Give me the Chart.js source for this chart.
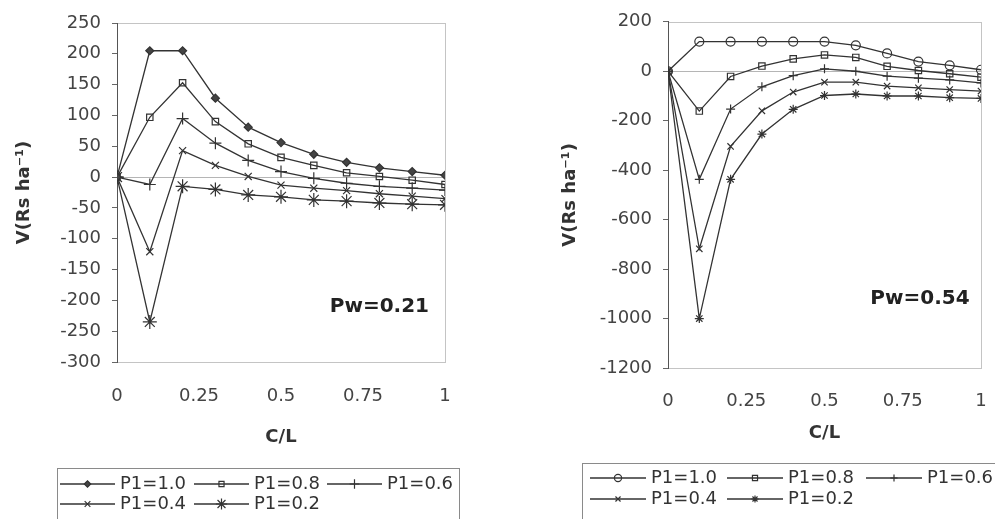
<!DOCTYPE html>
<html>
<head>
<meta charset="utf-8">
<script src="https://cdn.jsdelivr.net/npm/chart.js"></script>
<style>
  html, body { margin: 0; padding: 0; background: #fff; }
  #wrap { position: relative; width: 995px; height: 519px; overflow: hidden; }
  canvas { position: absolute; top: 0; }
  #left { left: 0; }
  #right { left: 497px; }
</style>
</head>
<body>
<div id="wrap">
  <canvas id="left" width="497" height="519"></canvas>
  <canvas id="right" width="516" height="519"></canvas>
</div>
<script>
'use strict';
// x values (C/L) and tick labels
const cl = [0, 0.1, 0.2, 0.3, 0.4, 0.5, 0.6, 0.7, 0.8, 0.9, 1.0];
const xTicks = [0, 0.25, 0.5, 0.75, 1];
const seriesNames = ['P1=1.0', 'P1=0.8', 'P1=0.6', 'P1=0.4', 'P1=0.2'];

// left panel, Pw=0.21
const pwLeft = 'Pw=0.21';
const left_p10 = [0, 205, 205, 128, 81, 56, 37, 24, 15, 9, 3];
const left_p08 = [0, 97, 153, 90, 54, 32, 19, 7, 1, -5, -12];
const left_p06 = [0, -12, 95, 55, 27, 9, -2, -10, -15, -18, -21];
const left_p04 = [0, -121, 43, 19, 1, -13, -18, -22, -27, -31, -35];
const left_p02 = [0, -235, -15, -20, -29, -32, -37, -39, -42, -44, -45];
const yTicksLeft = [-300, -250, -200, -150, -100, -50, 0, 50, 100, 150, 200, 250];

// right panel, Pw=0.54
const pwRight = 'Pw=0.54';
const right_p10 = [0, 120, 120, 120, 120, 120, 105, 72, 39, 24, 6];
const right_p08 = [0, -161, -21, 21, 50, 66, 56, 20, 3, -10, -24];
const right_p06 = [0, -437, -153, -63, -18, 10, 0, -20, -28, -35, -47];
const right_p04 = [0, -718, -304, -160, -84, -44, -44, -60, -67, -74, -80];
const right_p02 = [0, -1000, -437, -254, -154, -98, -92, -100, -100, -107, -110];
const yTicksRight = [-1200, -1000, -800, -600, -400, -200, 0, 200];

const lineColor = '#333';
const leftMarkers = [
  {pointStyle: 'rectRot', pointRadius: 4, pointBackgroundColor: '#444'},
  {pointStyle: 'rect', pointRadius: 4.5, pointBackgroundColor: 'rgba(0,0,0,0)'},
  {pointStyle: 'cross', pointRadius: 6, pointBackgroundColor: 'rgba(0,0,0,0)'},
  {pointStyle: 'crossRot', pointRadius: 5, pointBackgroundColor: 'rgba(0,0,0,0)'},
  {pointStyle: 'star', pointRadius: 7, pointBackgroundColor: 'rgba(0,0,0,0)'}
];
const rightMarkers = [
  {pointStyle: 'circle', pointRadius: 4.5, pointBackgroundColor: 'rgba(0,0,0,0)'},
  {pointStyle: 'rect', pointRadius: 4.5, pointBackgroundColor: 'rgba(0,0,0,0)'},
  {pointStyle: 'cross', pointRadius: 4.5, pointBackgroundColor: 'rgba(0,0,0,0)'},
  {pointStyle: 'crossRot', pointRadius: 4.5, pointBackgroundColor: 'rgba(0,0,0,0)'},
  {pointStyle: 'star', pointRadius: 4.5, pointBackgroundColor: '#555'}
];

function makeDatasets(seriesList, markers) {
  return seriesList.map(function(vals, i) {
    return Object.assign({
      label: seriesNames[i],
      data: vals.map((v, j) => ({x: cl[j], y: v})),
      borderColor: lineColor,
      borderWidth: 1.3,
      pointBorderColor: lineColor,
      pointBorderWidth: 1.2,
      pointHoverRadius: 0,
      tension: 0
    }, markers[i]);
  });
}

// white background + light plot frame, drawn under the axes
const plotFrame = {
  id: 'plotFrame',
  beforeDraw(chart) {
    const {ctx, chartArea: a} = chart;
    ctx.save();
    ctx.fillStyle = '#fff';
    ctx.fillRect(0, 0, chart.width, chart.height);
    ctx.strokeStyle = '#c4c4c4';
    ctx.lineWidth = 1;
    ctx.strokeRect(Math.round(a.left) + 0.5, Math.round(a.top) + 0.5,
      Math.round(a.right - a.left), Math.round(a.bottom - a.top));
    ctx.restore();
  }
};

const pwLabel = {
  id: 'pwLabel',
  afterDatasetsDraw(chart, args, opts) {
    const ctx = chart.ctx;
    ctx.save();
    ctx.font = 'bold 20px "DejaVu Sans"';
    ctx.fillStyle = '#222';
    ctx.textAlign = 'center';
    ctx.textBaseline = 'middle';
    ctx.fillText(opts.text, chart.scales.x.getPixelForValue(opts.x), chart.scales.y.getPixelForValue(opts.y));
    ctx.restore();
  }
};

const boxLegend = {
  id: 'boxLegend',
  afterDraw(chart, args, opts) {
    const ctx = chart.ctx;
    const b = opts.box;
    ctx.save();
    ctx.strokeStyle = '#8a8a8a';
    ctx.lineWidth = 1;
    ctx.strokeRect(b[0] + 0.5, b[1] + 0.5, b[2] - b[0], b[3] - b[1]);
    ctx.font = '18px "DejaVu Sans"';
    ctx.textBaseline = 'middle';
    chart.data.datasets.forEach(function(ds, i) {
      const x = opts.colX[i % 3];
      const y = opts.rowY[Math.floor(i / 3)];
      ctx.strokeStyle = ds.borderColor;
      ctx.lineWidth = ds.borderWidth;
      ctx.beginPath();
      ctx.moveTo(x, y);
      ctx.lineTo(x + opts.lineLen, y);
      ctx.stroke();
      ctx.fillStyle = ds.pointBackgroundColor;
      ctx.strokeStyle = ds.pointBorderColor;
      ctx.lineWidth = ds.pointBorderWidth;
      Chart.helpers.drawPoint(ctx, {pointStyle: ds.pointStyle, radius: ds.pointRadius * 0.8,
        borderWidth: 1, rotation: 0}, x + opts.lineLen / 2, y);
      ctx.fillStyle = '#333';
      ctx.fillText(ds.label, x + opts.lineLen + opts.gap, y);
    });
    ctx.restore();
  }
};

function makeChart(id, seriesList, markers, yTicks, cfg) {
  const tickFont = {family: 'DejaVu Sans', size: 18};
  const titleFont = {family: 'DejaVu Sans', size: 18, weight: 'bold'};
  return new Chart(document.getElementById(id), {
    type: 'line',
    data: {datasets: makeDatasets(seriesList, markers)},
    plugins: [plotFrame, pwLabel, boxLegend],
    options: {
      responsive: false,
      animation: false,
      devicePixelRatio: 1,
      events: [],
      layout: {padding: {left: 0, top: cfg.top, right: cfg.right, bottom: 0}},
      plugins: {
        legend: {display: false},
        tooltip: {enabled: false},
        pwLabel: cfg.pw,
        boxLegend: cfg.legend
      },
      scales: {
        x: {
          type: 'linear',
          min: 0, max: 1,
          afterBuildTicks: s => { s.ticks = xTicks.map(v => ({value: v})); },
          afterFit: s => { s.height = cfg.xHeight; },
          grid: {display: false, drawTicks: false},
          border: {display: false},
          ticks: {font: tickFont, color: '#444', padding: cfg.xPad, maxRotation: 0,
            callback: v => String(v)},
          title: {display: true, text: 'C/L', font: titleFont, color: '#333',
            padding: {top: 0, bottom: cfg.xTitlePad}}
        },
        y: {
          type: 'linear',
          min: yTicks[0], max: yTicks[yTicks.length - 1],
          afterBuildTicks: s => { s.ticks = yTicks.map(v => ({value: v})); },
          afterFit: s => { s.width = cfg.yWidth; },
          grid: {
            color: c => (c.tick && c.tick.value === 0) ? '#b5b5b5' : 'rgba(0,0,0,0)',
            tickColor: '#666',
            tickLength: 5,
            lineWidth: 1
          },
          border: {display: true, color: '#555', width: 1},
          ticks: {font: tickFont, color: '#444', padding: 11, callback: v => String(v)},
          title: {display: true, text: 'V(Rs ha\u207B\u00B9)', font: titleFont, color: '#333',
            padding: {top: cfg.yTitlePad, bottom: 0}}
        }
      }
    }
  });
}

makeChart('left', [left_p10, left_p08, left_p06, left_p04, left_p02], leftMarkers, yTicksLeft, {
  top: 23, right: 52, yWidth: 117, xHeight: 157, xPad: 24, xTitlePad: 71, yTitlePad: 14,
  pw: {text: pwLeft, x: 0.8, y: -211},
  legend: {box: [57, 468, 459, 540], colX: [60, 194, 327], rowY: [484, 504], lineLen: 55, gap: 5}
});

makeChart('right', [right_p10, right_p08, right_p06, right_p04, right_p02], rightMarkers, yTicksRight, {
  top: 21, right: 32, yWidth: 171, xHeight: 151, xPad: 23, xTitlePad: 75, yTitlePad: 63,
  pw: {text: pwRight, x: 0.805, y: -920},
  legend: {box: [85, 463, 540, 540], colX: [93, 230, 369], rowY: [478, 499], lineLen: 56, gap: 5}
});
</script>
</body>
</html>
